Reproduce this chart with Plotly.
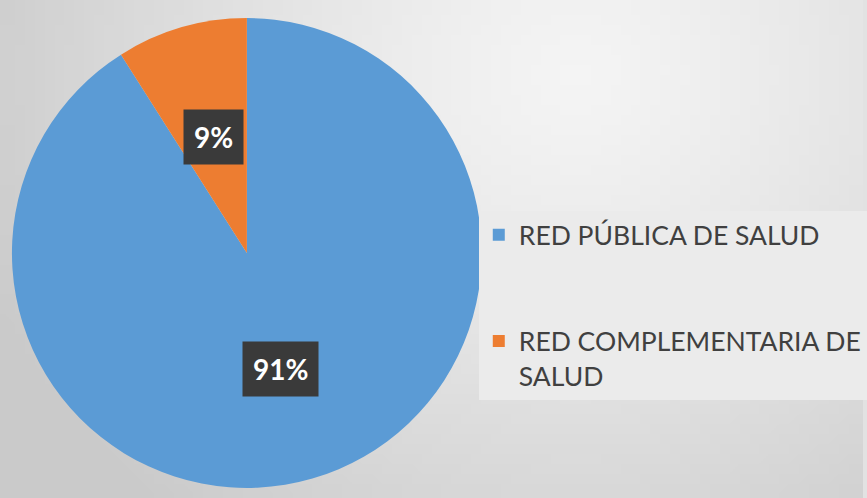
import math, zlib, struct, base64
import plotly.graph_objects as go

# ---- data ----
labels = ["RED PÚBLICA DE SALUD", "RED COMPLEMENTARIA DE SALUD"]
legend_labels = ["RED PÚBLICA DE SALUD<br>\u00a0<br>\u00a0", "RED COMPLEMENTARIA DE<br>SALUD"]
values = [91, 9]
colors = ["#5b9bd5", "#ed7d31"]

W, H = 867, 498

# ---- background gradient image (radial, light near upper right-centre) ----
def make_png(w, h, fn):
    raw = bytearray()
    for j in range(h):
        raw.append(0)
        for i in range(w):
            raw.extend(fn(i, j))
    def chunk(t, d):
        c = struct.pack(">I", len(d)) + t + d
        return c + struct.pack(">I", zlib.crc32(t + d) & 0xffffffff)
    png = b"\x89PNG\r\n\x1a\n"
    png += chunk(b"IHDR", struct.pack(">IIBBBBB", w, h, 8, 2, 0, 0, 0))
    png += chunk(b"IDAT", zlib.compress(bytes(raw), 9))
    png += chunk(b"IEND", b"")
    return "data:image/png;base64," + base64.b64encode(png).decode()

gw, gh = 87, 50
def grad(i, j):
    x = i / (gw - 1) * W
    y = j / (gh - 1) * H
    d = math.hypot((x - 580) / 1.0, (y - 70) / 0.9) / 650.0
    d = min(d, 1.0)
    v = int(round(244 - (244 - 202) * d ** 1.3))
    return (v, v, v)

bg_src = make_png(gw, gh, grad)

# ---- geometry of the pie ----
cx, cy, R = 248, 253, 236

fig = go.Figure()
fig.add_trace(go.Pie(
    labels=legend_labels,
    values=values,
    marker=dict(colors=colors, line=dict(width=0)),
    sort=False,
    direction="clockwise",
    rotation=0,
    textinfo="none",
    hoverinfo="label+percent",
    domain=dict(x=[(cx - R) / W, (cx + R) / W], y=[(H - cy - R) / H, (H - cy + R) / H]),
))

# percentage labels in dark boxes, placed at the slice mid-angles
total = sum(values)
cum = 0
annotations = []
for v in values:
    theta = 2 * math.pi * (cum + v / 2) / total
    cum += v
    px = cx + 0.51 * R * math.sin(theta)
    py = cy - 0.51 * R * math.cos(theta)
    annotations.append(dict(
        x=px / W, y=1 - py / H, xref="paper", yref="paper",
        text=f"{round(100 * v / total)}%", showarrow=False,
        font=dict(family="Lato", size=28, color="white", weight="bold"),
        bgcolor="#3a3a3a", borderpad=10,
        xanchor="center", yanchor="middle",
    ))

fig.update_layout(
    width=W, height=H,
    margin=dict(l=0, r=0, t=0, b=0),
    paper_bgcolor="#e2e2e2",
    images=[dict(source=bg_src, xref="paper", yref="paper", x=0, y=1,
                 sizex=1, sizey=1, sizing="stretch", layer="below",
                 xanchor="left", yanchor="top")],
    showlegend=True,
    legend=dict(
        x=481 / W, y=1 - 211 / H, xanchor="left", yanchor="top",
        bgcolor="#ebebeb", borderwidth=0,
        font=dict(family="Lato", size=26.5, color="#404040"),
        valign="top", traceorder="normal",
    ),
    annotations=annotations,
)

fig.write_html("out.html", config={"displayModeBar": False},
               post_script="document.body.style.margin='0';document.body.style.padding='0';")
